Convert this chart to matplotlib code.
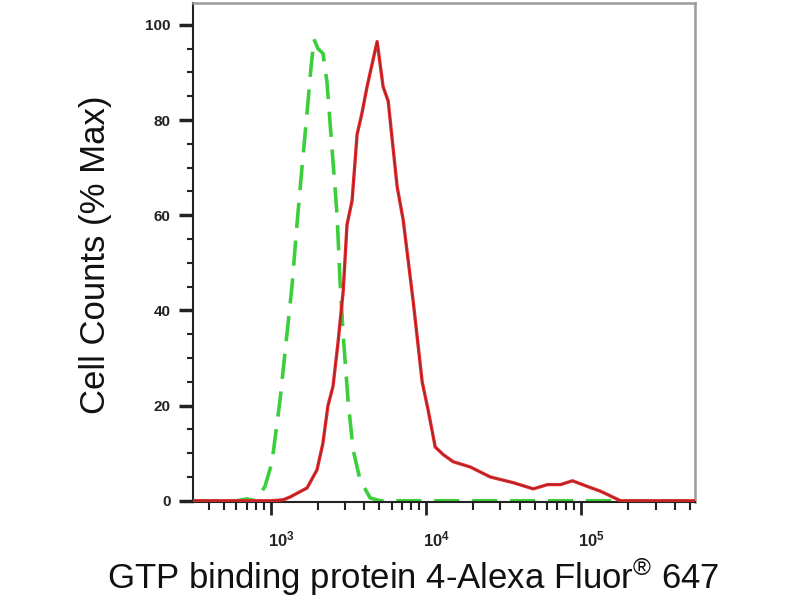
import matplotlib
matplotlib.use("Agg")
import matplotlib.pyplot as plt
from matplotlib.ticker import LogLocator, MultipleLocator, NullFormatter, FixedLocator, FixedFormatter
from matplotlib.transforms import ScaledTranslation

plt.rcParams['font.family'] = ['Liberation Sans', 'DejaVu Sans']
plt.rcParams['mathtext.fontset'] = 'custom'
plt.rcParams['mathtext.rm'] = 'Liberation Sans'
plt.rcParams['mathtext.it'] = 'Liberation Sans'
plt.rcParams['mathtext.bf'] = 'Liberation Sans:bold'

# stained sample (red, solid)
red_x = [314, 1000, 1200, 1330, 1710, 1980, 2160, 2330, 2510, 2700, 2920, 3090,
         3330, 3590, 3860, 4160, 4830, 5280, 5690, 6500, 7110, 8240, 9420,
         10300, 11430, 12880, 14930, 19230, 25880, 36390, 48980, 60390,
         73280, 87500, 109400, 132700, 178600, 540000]
red_y = [0, 0, 0.2, 0.8, 2.7, 6.5, 12, 20, 24, 33, 44, 58,
         63, 77, 81.5, 87, 96.5, 87, 84, 66, 59, 42, 25,
         19, 11.3, 9.7, 8.2, 7.1, 5, 3.8, 2.5, 3.4,
         3.4, 4.2, 3, 2, 0, 0]

# isotype control (green, dashed)
green_x = [314, 600, 700, 800, 915, 1015, 1143, 1268, 1366, 1471, 1585, 1708,
           1811, 1893, 2010, 2165, 2296, 2475, 2668, 2788, 2918, 3140, 3385,
           3750, 4352, 5050, 540000]
green_y = [0, 0, 0.4, 0, 3, 8, 21, 35, 45, 58, 70, 81.5,
           91, 97, 95, 94, 88, 74, 60, 46, 35, 21, 10.7,
           4.4, 0.6, 0, 0]

x_ticks = [1e3, 1e4, 1e5]
x_labels = ['$\\mathbf{10^{3}}$', '$\\mathbf{10^{4}}$', '$\\mathbf{10^{5}}$']
y_ticks = [0, 20, 40, 60, 80, 100]

fig = plt.figure(figsize=(8, 6), dpi=100)
ax = fig.add_axes([0.241, 0.163, 0.628, 0.832])

ax.plot(green_x, green_y, color='#3ccf3c', lw=2.6, dashes=(7, 3.5), zorder=2)
ax.plot(red_x, red_y, color='#e42a2e', lw=2.4, zorder=3)
ax.plot(red_x, red_y, color='#9c2222', lw=0.7, zorder=4)

ax.set_xscale('log')
ax.set_xlim(314, 540000)
ax.set_ylim(-0.3, 104.6)

ax.xaxis.set_major_locator(FixedLocator(x_ticks))
ax.xaxis.set_major_formatter(FixedFormatter(x_labels))
ax.xaxis.set_minor_locator(LogLocator(base=10, subs=range(2, 10)))
ax.xaxis.set_minor_formatter(NullFormatter())
ax.set_yticks(y_ticks)
ax.yaxis.set_minor_locator(MultipleLocator(5))

ax.tick_params(axis='x', which='major', direction='out', length=9, width=2,
               pad=11, labelsize=12, colors='#222222')
ax.tick_params(axis='x', which='minor', direction='out', length=6, width=1.5,
               colors='#222222')
ax.tick_params(axis='y', which='major', direction='out', length=10, width=2.5,
               pad=6, labelsize=11, colors='#222222')
ax.tick_params(axis='y', which='minor', direction='out', length=4, width=1.5,
               colors='#222222')
for lab in ax.get_yticklabels():
    lab.set_fontweight('bold')
for lab in ax.get_xticklabels():
    lab.set_transform(lab.get_transform() + ScaledTranslation(0.1, 0, fig.dpi_scale_trans))

for side in ['left', 'bottom']:
    ax.spines[side].set_color('#222222')
    ax.spines[side].set_linewidth(1.5)
for side in ['top', 'right']:
    ax.spines[side].set_color('#9a9a9a')
    ax.spines[side].set_linewidth(1.8)

fig.text(0.119, 0.575, 'Cell Counts (% Max)', rotation=90, fontsize=25,
         ha='center', va='center', color='#111111')
fig.text(0.516, 0.038, 'GTP binding protein 4-Alexa Fluor$^{\\circledR}$ 647',
         fontsize=25, ha='center', va='center', color='#111111')

fig.savefig('out.png', dpi=100)
